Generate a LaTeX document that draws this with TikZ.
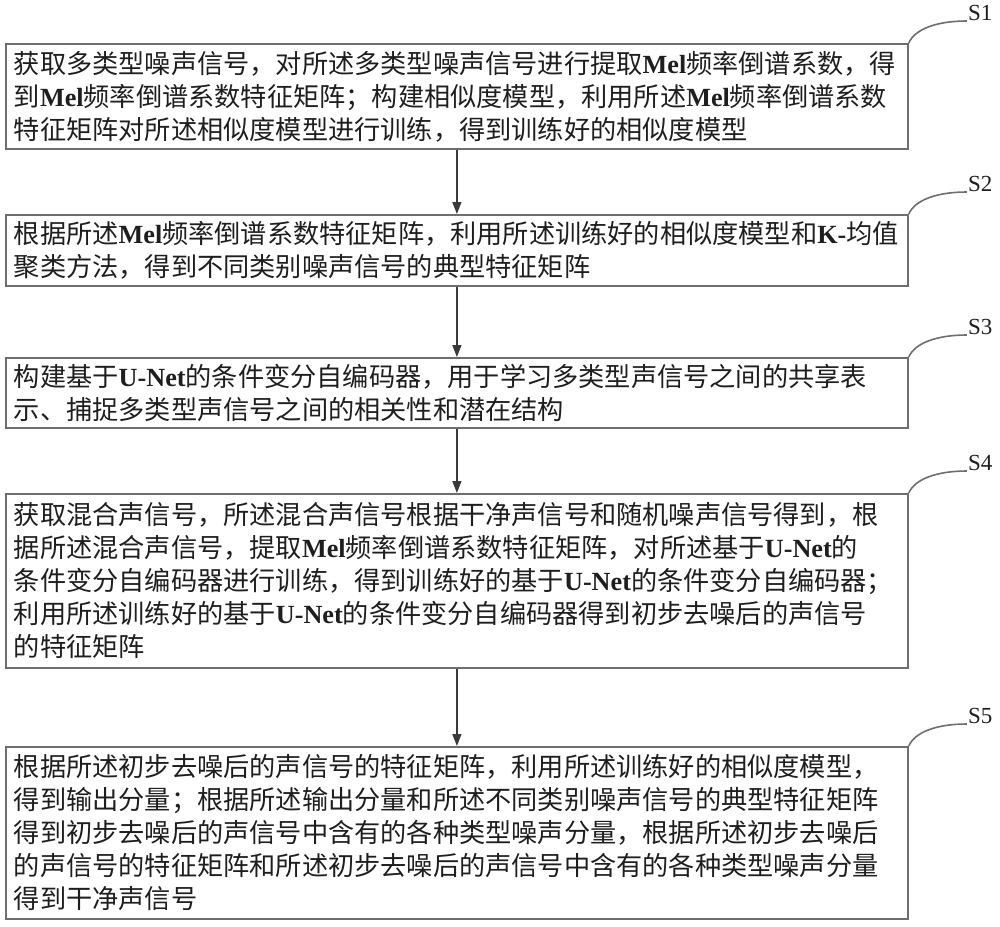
\documentclass[tikz,border=0pt]{standalone}
\usepackage{fontspec}
\setmainfont{Noto Sans CJK SC}
\newfontfamily\latf{Liberation Serif}
\usetikzlibrary{arrows.meta,calc}
\definecolor{boxgray}{HTML}{6E6E6E}
\definecolor{arrowc}{HTML}{3A3A3A}
\definecolor{textc}{HTML}{1E1E1E}
\newcommand{\Lt}[1]{\mbox{\latf\bfseries #1}}
\tikzset{
  stepbox/.style={draw=boxgray, line width=1.8pt, anchor=north west,
    minimum width=902pt, text width=886pt, inner xsep=8pt, inner ysep=2pt,
    align=left, font=\fontsize{26.2}{33}\selectfont, text=textc},
  flowarrow/.style={draw=arrowc, line width=1.4pt, -{Triangle[length=12pt,width=9pt]}},
  tagcurve/.style={draw=boxgray, line width=1.6pt},
  taglabel/.style={anchor=base west, inner sep=0pt, font=\latf\fontsize{23}{23}\selectfont, text=textc}
}
\begin{document}
\begin{tikzpicture}[x=1pt,y=-1pt]
\useasboundingbox (0,0) rectangle (1000,926);
\node[stepbox, minimum height=105pt] (b1) at (5,43) {获取多类型噪声信号，对所述多类型噪声信号进行提取\Lt{Mel}频率倒谱系数，得\\到\Lt{Mel}频率倒谱系数特征矩阵；构建相似度模型，利用所述\Lt{Mel}频率倒谱系数\\特征矩阵对所述相似度模型进行训练，得到训练好的相似度模型};
\node[stepbox, minimum height=71pt] (b2) at (5,214) {根据所述\Lt{Mel}频率倒谱系数特征矩阵，利用所述训练好的相似度模型和\Lt{K-}均值\\聚类方法，得到不同类别噪声信号的典型特征矩阵};
\node[stepbox, minimum height=70pt] (b3) at (5,357) {构建基于\Lt{U-Net}的条件变分自编码器，用于学习多类型声信号之间的共享表\\示、捕捉多类型声信号之间的相关性和潜在结构};
\node[stepbox, minimum height=174pt] (b4) at (5,493) {获取混合声信号，所述混合声信号根据干净声信号和随机噪声信号得到，根\\据所述混合声信号，提取\Lt{Mel}频率倒谱系数特征矩阵，对所述基于\Lt{U-Net}的\\条件变分自编码器进行训练，得到训练好的基于\Lt{U-Net}的条件变分自编码器；\\利用所述训练好的基于\Lt{U-Net}的条件变分自编码器得到初步去噪后的声信号\\的特征矩阵};
\node[stepbox, minimum height=172pt] (b5) at (5,746) {根据所述初步去噪后的声信号的特征矩阵，利用所述训练好的相似度模型，\\得到输出分量；根据所述输出分量和所述不同类别噪声信号的典型特征矩阵\\得到初步去噪后的声信号中含有的各种类型噪声分量，根据所述初步去噪后\\的声信号的特征矩阵和所述初步去噪后的声信号中含有的各种类型噪声分量\\得到干净声信号};
\foreach \i/\j in {1/2,2/3,3/4,4/5}{
  \draw[flowarrow] (b\i.south) -- (b\j.north);
}
\foreach \i in {1,...,5}{
  \coordinate (c\i) at ($(b\i.north east)+(58,-22)$);
  \node[taglabel] (s\i) at ($(c\i)+(1,-1)$) {S\i};
  \draw[tagcurve] (b\i.north east) .. controls ($(b\i.north east)+(6,-14)$) and ($(c\i)+(-30,0)$) .. (c\i);
}
\end{tikzpicture}
\end{document}
